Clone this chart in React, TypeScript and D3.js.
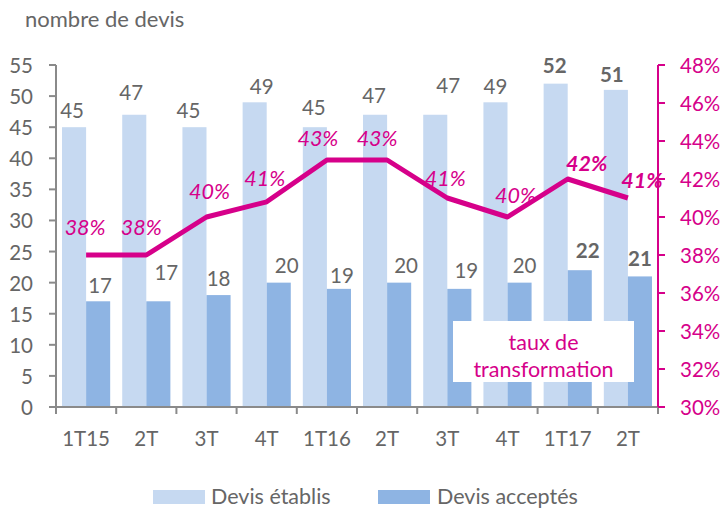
import React from "react";
import * as d3 from "d3";

const categories = ["1T15", "2T", "3T", "4T", "1T16", "2T", "3T", "4T", "1T17", "2T"];
const devisEtablis = [45, 47, 45, 49, 45, 47, 47, 49, 52, 51];
const devisAcceptes = [17, 17, 18, 20, 19, 20, 19, 20, 22, 21];
const tauxTransfo = [38, 38, 40, 40.8, 43, 43, 41, 40, 42, 41];
const tauxLabels = ["38%", "38%", "40%", "41%", "43%", "43%", "41%", "40%", "42%", "41%"];
const leftTicks = [0, 5, 10, 15, 20, 25, 30, 35, 40, 45, 50, 55];
const rightTicks = [30, 32, 34, 36, 38, 40, 42, 44, 46, 48];
const boldFrom = 8;

// label nudges (layout only)
const lightNudge = [[-2, -1], [-3, -7], [-6, -1], [7, 0], [-1, -4], [-1, -4], [13, -14], [0, 0], [-1, -3], [-4, 0]];
const darkNudge = [[2, 0], [8, -13], [0, -1], [8, -2], [3, 2], [7, -2], [7, -3], [5, -2], [8, -4], [0, -2]];
const pctNudge = [[-1, -4], [-5, -4], [3, -2], [-2, 0], [-9, 2], [-10, 2], [-2, 4], [8, 2], [19, 8], [14, 6]];

const W = 724, H = 508;
const FONT = "Lato, 'Open Sans', sans-serif";
const GRAY = "#666666";
const AXIS = "#8a8a8a";
const MAG = "#D6008A";
const LIGHT = "#C6D9F1";
const DARK = "#8EB4E3";

export default function App() {
  const x0 = 56, x1 = 658, yTop = 65, yBot = 407;
  const x = d3.scaleBand<number>().domain(d3.range(categories.length)).range([x0, x1]).paddingInner(0.2).paddingOuter(0.1);
  const step = x.step();
  const bw = x.bandwidth();
  const yL = d3.scaleLinear().domain([0, 55]).range([yBot, yTop]);
  const yR = d3.scaleLinear().domain([30, 48]).range([yBot, yTop]);
  const cx = (i: number) => (x(i) as number) + bw / 2;
  const line = d3.line<number>().x((_, i) => cx(i)).y((d) => yR(d));

  return (
    <svg width={W} height={H} style={{ position: "absolute", left: 0, top: 0, background: "#fff" }} fontFamily={FONT}>
      <text x={25} y={18} fontSize={22} fill={GRAY} dominantBaseline="central">nombre de devis</text>

      {/* bars */}
      {categories.map((_, i) => (
        <g key={"b" + i}>
          <rect x={x(i)} y={yL(devisEtablis[i])} width={bw / 2} height={yBot - yL(devisEtablis[i])} fill={LIGHT} />
          <rect x={(x(i) as number) + bw / 2} y={yL(devisAcceptes[i])} width={bw / 2} height={yBot - yL(devisAcceptes[i])} fill={DARK} />
        </g>
      ))}

      {/* bar labels */}
      {categories.map((_, i) => (
        <g key={"l" + i} fontSize={20.5} fill={GRAY} fontWeight={i >= boldFrom ? 700 : 400} textAnchor="middle" dominantBaseline="central">
          <text x={(x(i) as number) + bw / 4 + lightNudge[i][0]} y={yL(devisEtablis[i]) - 16 + lightNudge[i][1]}>{devisEtablis[i]}</text>
          <text x={(x(i) as number) + (3 * bw) / 4 + darkNudge[i][0]} y={yL(devisAcceptes[i]) - 16 + darkNudge[i][1]}>{devisAcceptes[i]}</text>
        </g>
      ))}

      {/* left axis */}
      <line x1={x0} x2={x0} y1={yTop} y2={yBot} stroke={AXIS} strokeWidth={2} />
      {leftTicks.map((t) => (
        <g key={"lt" + t}>
          <line x1={x0 - 7} x2={x0} y1={yL(t)} y2={yL(t)} stroke={AXIS} strokeWidth={2} />
          <text x={33} y={yL(t)} fontSize={20.5} fill={GRAY} textAnchor="end" dominantBaseline="central">{t}</text>
        </g>
      ))}

      {/* x axis */}
      <line x1={x0} x2={x1} y1={yBot} y2={yBot} stroke={AXIS} strokeWidth={2} />
      {d3.range(categories.length + 1).map((i) => (
        <line key={"xt" + i} x1={x0 + i * step} x2={x0 + i * step} y1={yBot} y2={yBot + 7} stroke={AXIS} strokeWidth={2} />
      ))}
      {categories.map((c, i) => (
        <text key={"xl" + i} x={cx(i)} y={438} fontSize={20.5} fill={GRAY} textAnchor="middle" dominantBaseline="central">{c}</text>
      ))}

      {/* right axis */}
      <line x1={x1} x2={x1} y1={yTop} y2={yBot} stroke={MAG} strokeWidth={2} />
      {rightTicks.map((t) => (
        <g key={"rt" + t}>
          <line x1={x1} x2={x1 + 7} y1={yR(t)} y2={yR(t)} stroke={MAG} strokeWidth={2} />
          <text x={680} y={yR(t)} fontSize={20.5} fill={MAG} textAnchor="start" dominantBaseline="central">{t}%</text>
        </g>
      ))}

      {/* line */}
      <path d={line(tauxTransfo) || ""} fill="none" stroke={MAG} strokeWidth={5} strokeLinejoin="round" />
      {tauxTransfo.map((v, i) => (
        <text key={"p" + i} x={cx(i) + pctNudge[i][0]} y={yR(v) - 24 + pctNudge[i][1]} fontSize={21.5} fill={MAG}
          fontStyle="italic" fontWeight={i >= boldFrom ? 700 : 400} textAnchor="middle" dominantBaseline="central">{tauxLabels[i]}</text>
      ))}

      {/* annotation box */}
      <rect x={453} y={321} width={181} height={61} fill="#fff" />
      <text x={543.5} y={342} fontSize={21.5} fill={MAG} textAnchor="middle" dominantBaseline="central">taux de</text>
      <text x={543.5} y={369} fontSize={21.5} fill={MAG} textAnchor="middle" dominantBaseline="central">transformation</text>

      {/* legend */}
      <rect x={153} y={490} width={52} height={14} fill={LIGHT} />
      <text x={211} y={496} fontSize={21.5} fill={GRAY} dominantBaseline="central">Devis établis</text>
      <rect x={378} y={490} width={52} height={14} fill={DARK} />
      <text x={437} y={496} fontSize={21.5} fill={GRAY} dominantBaseline="central">Devis acceptés</text>
    </svg>
  );
}
